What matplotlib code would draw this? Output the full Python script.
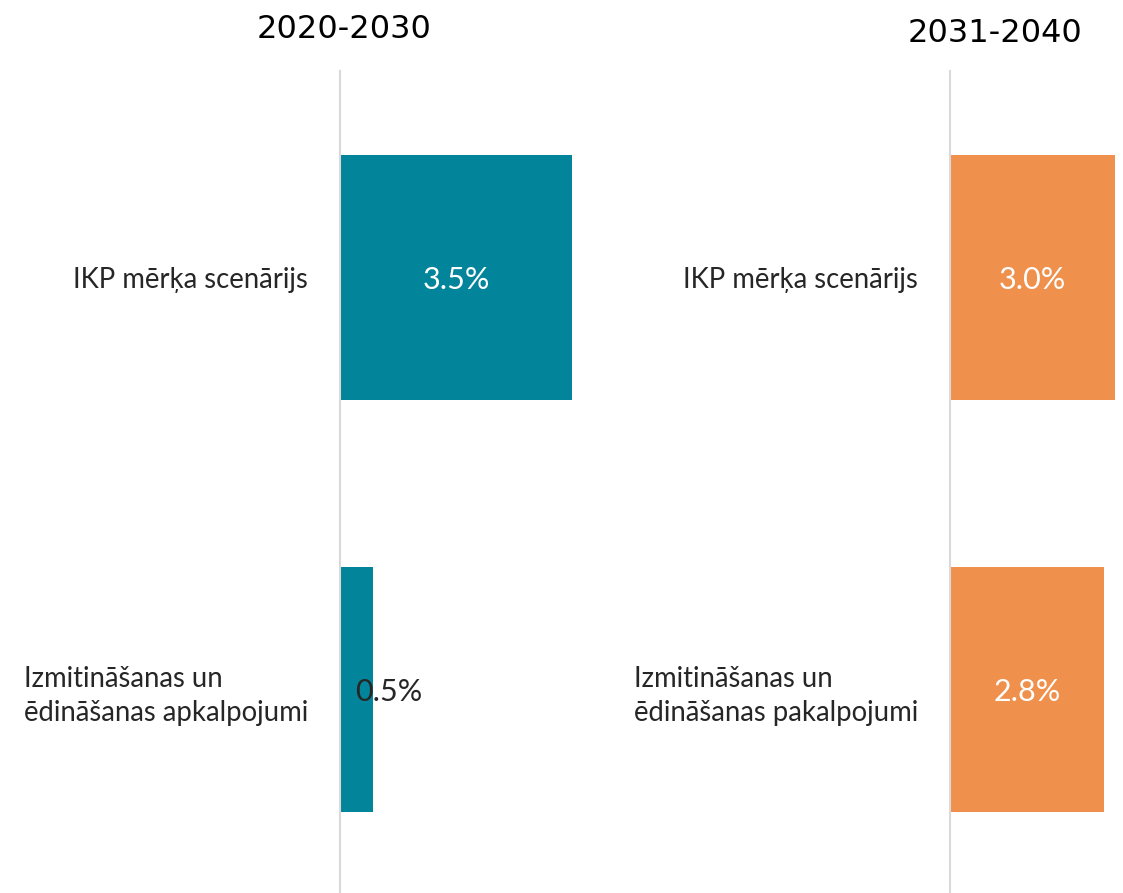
import matplotlib
matplotlib.use("Agg")
import matplotlib.pyplot as plt

# Data
titles = ["2020-2030", "2031-2040"]
left_categories = ["IKP mērķa scenārijs", "Izmitināšanas un\nēdināšanas apkalpojumi"]
right_categories = ["IKP mērķa scenārijs", "Izmitināšanas un\nēdināšanas pakalpojumi"]
left_values = [3.5, 0.5]
right_values = [3.0, 2.8]
left_labels = ["3.5%", "0.5%"]
right_labels = ["3.0%", "2.8%"]

TEAL = "#02849B"
ORANGE = "#EF904C"
TXT = "#262626"
LABEL_FONT = ["Lato", "DejaVu Sans"]

W, H = 1123, 893
fig = plt.figure(figsize=(W / 100, H / 100), dpi=100)
fig.patch.set_facecolor("white")


def px_axes(x0, x1, y0, y1):
    return fig.add_axes([x0 / W, 1 - y1 / H, (x1 - x0) / W, (y1 - y0) / H])


def panel(ax, cats, vals, labels, color, xmax, label_colors, offsets):
    y = list(range(len(cats)))
    ax.barh(y, vals, height=0.595, color=color, zorder=2)
    ax.set_xlim(0, xmax)
    ax.set_ylim(1.494, -0.501)
    ax.set_yticks(y)
    ax.set_yticklabels(cats, fontsize=19.8, family=LABEL_FONT, color=TXT,
                       multialignment="left", linespacing=1.4)
    ax.tick_params(axis="y", length=0, pad=23)
    ax.set_xticks([])
    for s in ["top", "right", "bottom"]:
        ax.spines[s].set_visible(False)
    ax.spines["left"].set_color("#D9D9D9")
    ax.spines["left"].set_linewidth(1.5)
    ax.spines["left"].set_zorder(3)
    for i, (v, lab) in enumerate(zip(vals, labels)):
        if offsets[i] is None:
            xc = min(v, xmax) / 2
            ax.text(xc, i, lab, ha="center", va="center_baseline", fontsize=22,
                    family=LABEL_FONT, color=label_colors[i], zorder=4)
        else:
            ax.annotate(lab, xy=(v, i), xytext=(offsets[i], 0),
                        textcoords="offset pixels", ha="center",
                        va="center_baseline", fontsize=22, family=LABEL_FONT,
                        color=label_colors[i], zorder=4)


axL = px_axes(340, 600, 71, 893)
panel(axL, left_categories, left_values, left_labels, TEAL, 3.922,
      ["white", TXT], [None, 16])

axR = px_axes(950, 1123, 71, 893)
panel(axR, right_categories, right_values, right_labels, ORANGE, 3.15,
      ["white", "white"], [None, None])

fig.text(344 / W, 1 - 30 / H, titles[0], ha="center", va="center",
         fontsize=23, family="DejaVu Sans", color="black")
fig.text(995 / W, 1 - 33 / H, titles[1], ha="center", va="center",
         fontsize=23, family="DejaVu Sans", color="black")

fig.savefig("out.png", dpi=100, facecolor="white")
